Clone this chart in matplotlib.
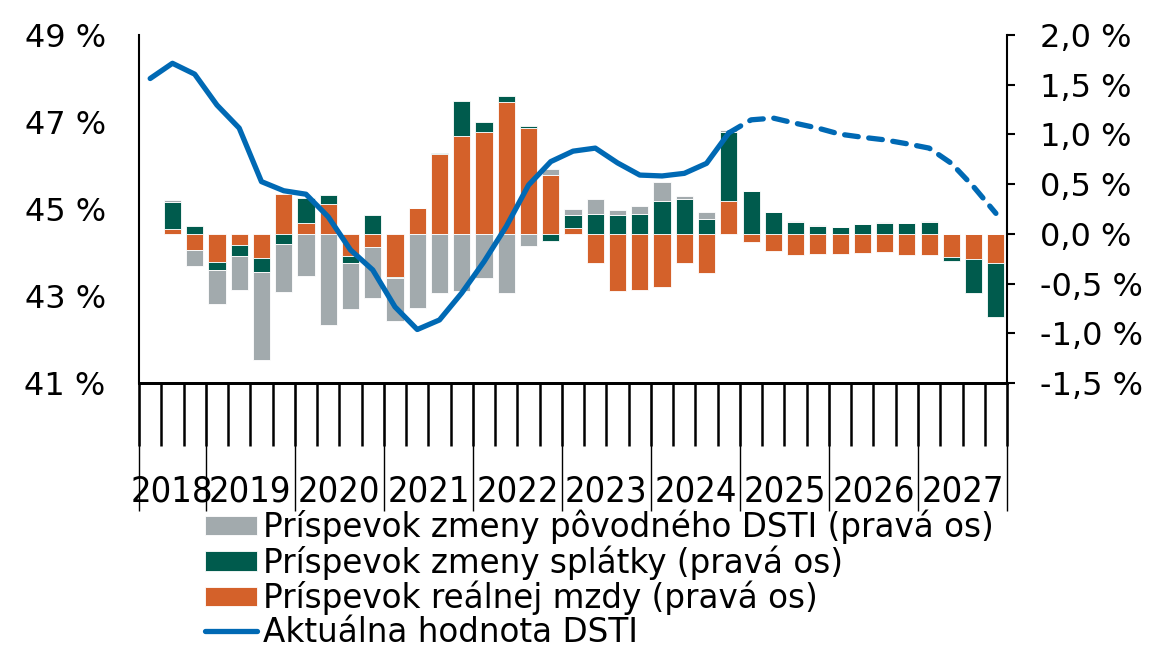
import numpy as np
import matplotlib
matplotlib.use("Agg")
import matplotlib.pyplot as plt
from matplotlib.ticker import FuncFormatter, FixedLocator
import matplotlib.transforms as mtrans

# quarterly data, 2018Q2 .. 2027Q4
years = [2018, 2019, 2020, 2021, 2022, 2023, 2024, 2025, 2026, 2027]
first_year_quarters = 3

dsti = [48.0, 48.35, 48.1, 47.39, 46.86, 45.63, 45.42, 45.34, 44.82, 44.06,
        43.6, 42.75, 42.23, 42.45, 43.07, 43.79, 44.6, 45.55, 46.09, 46.33,
        46.4, 46.06, 45.78, 45.76, 45.82, 46.05, 46.75, 47.05, 47.09, 46.97,
        46.86, 46.72, 46.65, 46.59, 46.5, 46.4, 46.05, 45.51, 44.9]
last_actual = 26  # index of last actual quarter (2024Q4)

wage = [np.nan, 0.05, -0.16, -0.285, -0.11, -0.245, 0.40, 0.107, 0.30, -0.218,
        -0.134, -0.436, 0.265, 0.805, 0.987, 1.023, 1.325, 1.064, 0.597, 0.06,
        -0.295, -0.57, -0.564, -0.53, -0.295, -0.393, 0.33, -0.084, -0.168, -0.21,
        -0.2, -0.205, -0.19, -0.18, -0.208, -0.21, -0.235, -0.25, -0.29]
payment = [np.nan, 0.275, 0.077, -0.074, -0.117, -0.134, -0.10, 0.258, 0.094, -0.074,
           0.19, -0.01, 0.0, 0.007, 0.352, 0.10, 0.057, 0.02, -0.074, 0.134,
           0.195, 0.185, 0.198, 0.332, 0.346, 0.154, 0.69, 0.43, 0.22, 0.12,
           0.084, 0.074, 0.104, 0.114, 0.114, 0.12, -0.034, -0.345, -0.545]
orig_dsti = [np.nan, 0.02, -0.165, -0.345, -0.335, -0.89, -0.487, -0.42, -0.92, -0.463,
             -0.51, -0.426, -0.745, -0.594, -0.577, -0.446, -0.594, -0.124, 0.06, 0.057,
             0.16, 0.057, 0.08, 0.185, 0.03, 0.064, 0.023, 0.0, 0.0, 0.01,
             0.01, 0.0, 0.0, 0.01, 0.0, 0.01, 0.0, 0.0, 0.0]

labels = ["Príspevok zmeny pôvodného DSTI (pravá os)",
          "Príspevok zmeny splátky (pravá os)",
          "Príspevok reálnej mzdy (pravá os)",
          "Aktuálna hodnota DSTI"]

c_grey = "#A2AAAD"
c_green = "#005B4D"
c_orange = "#D4612A"
c_blue = "#0069B4"

plt.rcParams["font.family"] = ["DejaVu Sans"]

n = len(dsti)
x = np.arange(n)

fig = plt.figure(figsize=(11.53, 6.46), dpi=100)
ax = fig.add_axes([0.1206, 0.4071, 0.7528, 0.5387])
ax2 = ax.twinx()
ax.set_zorder(ax2.get_zorder() + 1)
ax.patch.set_visible(False)

# stacked bars on the right axis
pos = np.zeros(n)
neg = np.zeros(n)
handles = {}
for vals, col, key in [(wage, c_orange, "w"), (payment, c_green, "p"), (orig_dsti, c_grey, "g")]:
    v = np.nan_to_num(np.array(vals, dtype=float))
    bottom = np.where(v >= 0, pos, neg)
    handles[key] = ax2.bar(x, v, bottom=bottom, width=0.77, color=col,
                           edgecolor="white", linewidth=0.6)
    pos = pos + np.where(v > 0, v, 0)
    neg = neg + np.where(v < 0, v, 0)

# line on left axis
ln, = ax.plot(x[:last_actual + 1], dsti[:last_actual + 1], color=c_blue, lw=3.8,
              solid_capstyle="round", solid_joinstyle="round")
ax.plot(x[last_actual:], dsti[last_actual:], color=c_blue, lw=3.8,
        dashes=(2.6, 2.0), dash_capstyle="round")

ax.set_xlim(-0.5, n - 0.5)
ax.set_ylim(41, 49)
ax.set_yticks([41, 43, 45, 47, 49])
ax.yaxis.set_major_formatter(FuncFormatter(lambda v, p: f"{v:.0f} %"))
ax2.set_ylim(-1.5, 2.0)
ax2.set_yticks(np.arange(-1.5, 2.01, 0.5))
ax2.yaxis.set_major_formatter(FuncFormatter(lambda v, p: f"{v:.1f} %".replace(".", ",")))

for a in (ax, ax2):
    a.spines["top"].set_visible(False)
    a.spines["left"].set_linewidth(1.5)
    a.spines["right"].set_linewidth(1.5)
    a.spines["bottom"].set_linewidth(2)
ax.spines["right"].set_visible(False)
ax2.spines["left"].set_visible(False)

ax.tick_params(axis="y", length=0, pad=24, labelsize=23)
ax2.tick_params(axis="y", length=6, width=1.5, pad=18, labelsize=23)

# x ticks: quarter boundaries + long year separators
ax2.tick_params(axis="x", bottom=False, labelbottom=False)
qb = np.arange(n + 1) - 0.5
yb = np.concatenate([[-0.5], first_year_quarters - 0.5 + 4 * np.arange(len(years))])
ax.xaxis.remove_overlapping_locs = False
ax.xaxis.set_major_locator(FixedLocator(yb))
ax.xaxis.set_minor_locator(FixedLocator(qb))
ax.tick_params(axis="x", which="major", length=92, width=1.0, labelbottom=False)
ax.tick_params(axis="x", which="minor", length=45, width=1.8)

# year labels centred in each year span
tr = mtrans.blended_transform_factory(ax.transData, ax.transAxes)
bounds = list(yb) + [n - 0.5]
for i, yr in enumerate(years):
    cx = (bounds[i] + bounds[i + 1]) / 2
    ax.text(cx, -0.313, str(yr), transform=tr, ha="center", va="center",
            fontsize=26, fontstretch="condensed")

fig.legend([handles["g"], handles["p"], handles["w"], ln], labels,
           loc="upper left", bbox_to_anchor=(0.1778, 0.211), frameon=False,
           prop={"size": 23.5},
           handlelength=1.6, handleheight=0.55, handletextpad=0.18,
           labelspacing=0.03, borderaxespad=0, borderpad=0)

fig.savefig("out.png", dpi=100)
